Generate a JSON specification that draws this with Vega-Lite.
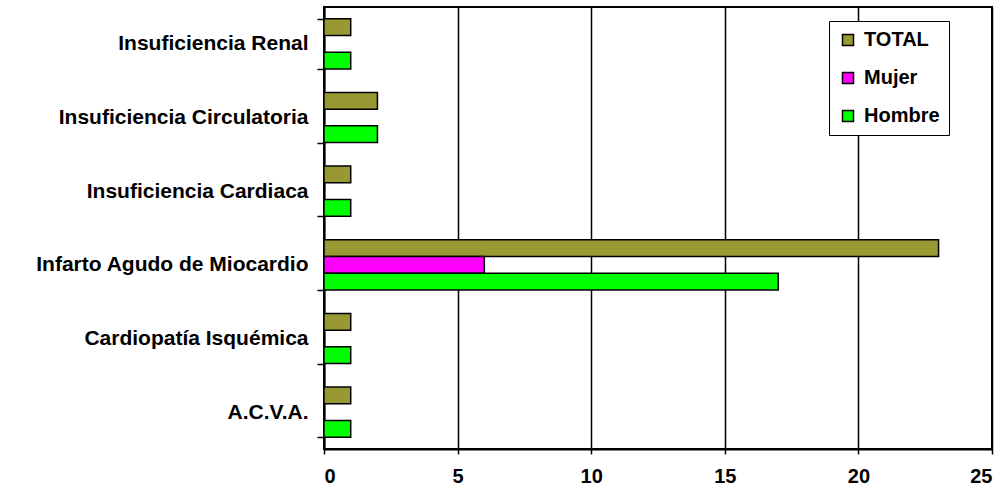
{
  "$schema": "https://vega.github.io/schema/vega-lite/v6.json",
  "autosize": "none",
  "width": 668,
  "height": 442,
  "padding": {"left": 324, "top": 7, "right": 15, "bottom": 44},
  "background": "white",
  "config": {
    "font": "Liberation Sans",
    "view": {"stroke": "black", "strokeWidth": 2}
  },
  "data": {
    "values": [
      {"cause": "Insuficiencia Renal", "series": "TOTAL", "value": 1},
      {"cause": "Insuficiencia Renal", "series": "Mujer", "value": 0},
      {"cause": "Insuficiencia Renal", "series": "Hombre", "value": 1},
      {"cause": "Insuficiencia Circulatoria", "series": "TOTAL", "value": 2},
      {"cause": "Insuficiencia Circulatoria", "series": "Mujer", "value": 0},
      {"cause": "Insuficiencia Circulatoria", "series": "Hombre", "value": 2},
      {"cause": "Insuficiencia Cardiaca", "series": "TOTAL", "value": 1},
      {"cause": "Insuficiencia Cardiaca", "series": "Mujer", "value": 0},
      {"cause": "Insuficiencia Cardiaca", "series": "Hombre", "value": 1},
      {"cause": "Infarto Agudo de Miocardio", "series": "TOTAL", "value": 23},
      {"cause": "Infarto Agudo de Miocardio", "series": "Mujer", "value": 6},
      {"cause": "Infarto Agudo de Miocardio", "series": "Hombre", "value": 17},
      {"cause": "Cardiopatía Isquémica", "series": "TOTAL", "value": 1},
      {"cause": "Cardiopatía Isquémica", "series": "Mujer", "value": 0},
      {"cause": "Cardiopatía Isquémica", "series": "Hombre", "value": 1},
      {"cause": "A.C.V.A.", "series": "TOTAL", "value": 1},
      {"cause": "A.C.V.A.", "series": "Mujer", "value": 0},
      {"cause": "A.C.V.A.", "series": "Hombre", "value": 1}
    ]
  },
  "mark": {"type": "bar", "stroke": "black", "strokeWidth": 1.5},
  "encoding": {
    "y": {
      "field": "cause",
      "type": "nominal",
      "sort": ["Insuficiencia Renal", "Insuficiencia Circulatoria", "Insuficiencia Cardiaca", "Infarto Agudo de Miocardio", "Cardiopatía Isquémica", "A.C.V.A."],
      "scale": {"paddingInner": 0.32, "paddingOuter": 0.16},
      "axis": {
        "title": null,
        "tickBand": "extent",
        "tickSize": 7,
        "tickColor": "black",
        "tickWidth": 1.5,
        "domainColor": "black",
        "domainWidth": 2,
        "labelFont": "Liberation Sans",
        "labelFontSize": 21,
        "labelFontWeight": "bold",
        "labelColor": "black",
        "labelPadding": 9,
        "labelLimit": 400
      }
    },
    "yOffset": {
      "field": "series",
      "type": "nominal",
      "sort": ["TOTAL", "Mujer", "Hombre"],
      "scale": {"paddingInner": 0, "paddingOuter": 0}
    },
    "x": {
      "field": "value",
      "type": "quantitative",
      "scale": {"domain": [0, 25], "nice": false},
      "axis": {
        "title": null,
        "values": [0, 5, 10, 15, 20, 25],
        "grid": true,
        "gridColor": "black",
        "gridOpacity": 1,
        "gridWidth": 1.5,
        "tickSize": 5,
        "tickColor": "black",
        "tickWidth": 1.5,
        "domainColor": "black",
        "domainWidth": 2,
        "labelFont": "Liberation Sans",
        "labelFontSize": 20,
        "labelFontWeight": "bold",
        "labelColor": "black",
        "labelPadding": 12
      }
    },
    "color": {
      "field": "series",
      "type": "nominal",
      "scale": {"domain": ["TOTAL", "Mujer", "Hombre"], "range": ["#999933", "#FF00FF", "#00FF00"]},
      "legend": {
        "title": null,
        "orient": "none",
        "legendX": 505,
        "legendY": 14,
        "fillColor": "white",
        "strokeColor": "black",
        "padding": 9,
        "symbolType": "square",
        "symbolSize": 121,
        "symbolStrokeColor": "black",
        "symbolStrokeWidth": 1.5,
        "symbolOpacity": 1,
        "labelFont": "Liberation Sans",
        "labelFontSize": 20,
        "labelFontWeight": "bold",
        "labelColor": "black",
        "rowPadding": 18,
        "labelOffset": 6
      }
    }
  }
}
